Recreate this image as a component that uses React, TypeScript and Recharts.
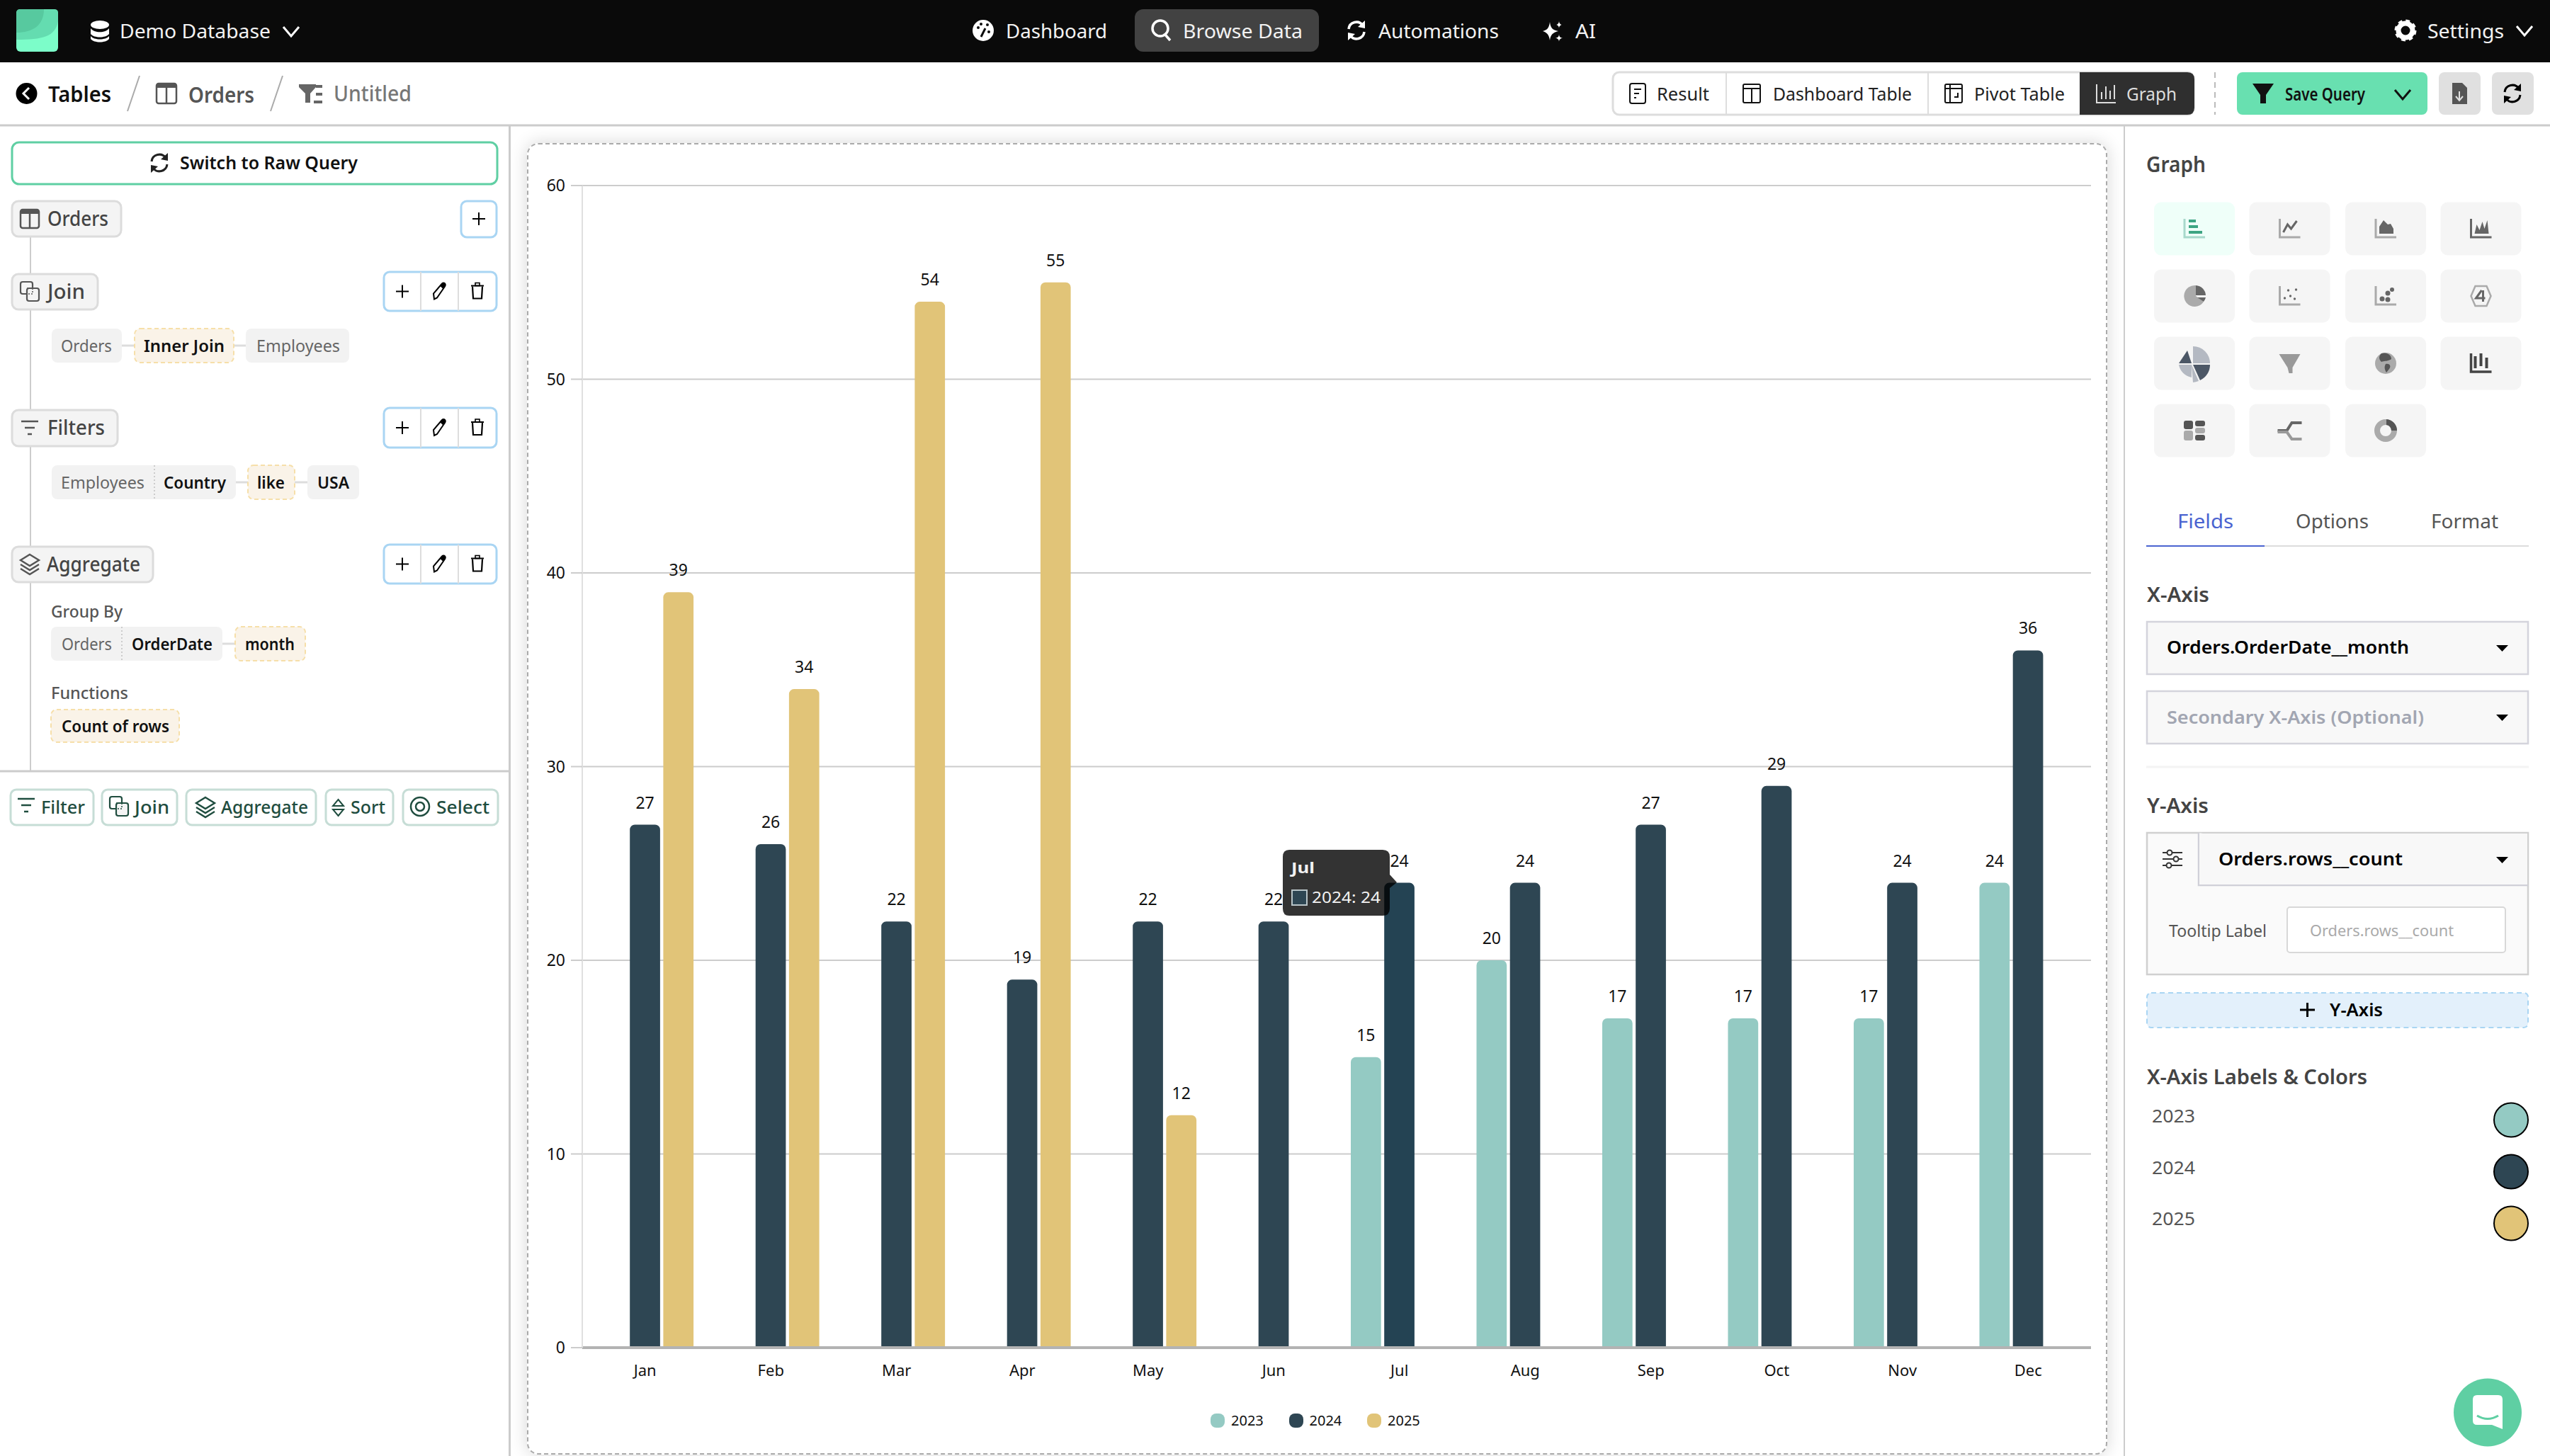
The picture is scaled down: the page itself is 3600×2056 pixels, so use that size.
import React from 'react';
import { BarChart, Bar, XAxis, YAxis, CartesianGrid, Legend, LabelList, Cell } from 'recharts';

const months = ['Jan', 'Feb', 'Mar', 'Apr', 'May', 'Jun', 'Jul', 'Aug', 'Sep', 'Oct', 'Nov', 'Dec'];
const values2023 = [null, null, null, null, null, null, 15, 20, 17, 17, 17, 24];
const values2024 = [27, 26, 22, 19, 22, 22, 24, 24, 27, 29, 24, 36];
const values2025 = [39, 34, 54, 55, 12, null, null, null, null, null, null, null];
const yTicks = [0, 10, 20, 30, 40, 50, 60];
const seriesNames = ['2023', '2024', '2025'];
const seriesColors = ['#94cac3', '#2e4653', '#e1c478'];
const hoveredColor = '#244353';
const hoveredMonth = 'Jul';

const rows = months.map((m, i) => ({ month: m, '2023': values2023[i], '2024': values2024[i], '2025': values2025[i] }));

const F = '"Noto Sans", sans-serif';

const T = ({ a, b, y, s = 24, w = 400, c = '#000', t }: any) => (
  <text x={a} y={y + s * 0.36} fontSize={s} fontWeight={w} fill={c} fontFamily={F} textLength={b - a} lengthAdjust="spacingAndGlyphs">{t}</text>
);
const R = ({ a, t, b, d, f = 'none', st, sw = 2, r = 0, dash }: any) => (
  <rect x={a} y={t} width={b - a} height={d - t} rx={r} fill={f} stroke={st} strokeWidth={st ? sw : 0} strokeDasharray={dash} />
);
const L = ({ x1, y1, x2, y2, c = '#ccc', w = 2, dash }: any) => <line x1={x1} y1={y1} x2={x2} y2={y2} stroke={c} strokeWidth={w} strokeDasharray={dash} />;
const G = ({ x, y, children }: any) => <g transform={`translate(${x} ${y})`}>{children}</g>;

const Chevron = ({ x, y, c = '#fff', w = 3 }: any) => <polyline points={`${x - 11},${y - 6} ${x},${y + 7} ${x + 11},${y - 6}`} fill="none" stroke={c} strokeWidth={w} />;
const TableIcon = ({ x, y, c = '#555', s = 13 }: any) => (
  <G x={x} y={y}>
    <rect x={-s} y={-s} width={2 * s} height={2 * s} rx={3} fill="none" stroke={c} strokeWidth={2.5} />
    <rect x={-s} y={-s} width={2 * s} height={6} fill={c} />
    <line x1={0} y1={-s} x2={0} y2={s} stroke={c} strokeWidth={2.5} />
  </G>
);
const JoinIcon = ({ x, y, c = '#555' }: any) => (
  <G x={x} y={y}>
    <rect x={-13} y={-14} width={17} height={17} rx={3} fill="none" stroke={c} strokeWidth={2.2} />
    <rect x={-4} y={-5} width={17} height={18} rx={3} fill="#f4f4f4" stroke={c} strokeWidth={2.2} />
    <rect x={-4} y={-5} width={8} height={8} fill="none" stroke={c} strokeWidth={1.5} strokeDasharray="2 2" />
  </G>
);
const FilterLines = ({ x, y, c = '#555' }: any) => (
  <G x={x} y={y}>
    <L x1={-12} y1={-9} x2={12} y2={-9} c={c} w={2.5} />
    <L x1={-7} y1={0} x2={7} y2={0} c={c} w={2.5} />
    <L x1={-3} y1={9} x2={3} y2={9} c={c} w={2.5} />
  </G>
);
const Layers = ({ x, y, c = '#555' }: any) => (
  <G x={x} y={y}>
    <polygon points="0,-14 13,-6 0,2 -13,-6" fill="none" stroke={c} strokeWidth={2.4} />
    <polyline points="-13,0 0,8 13,0" fill="none" stroke={c} strokeWidth={2.4} />
    <polyline points="-13,6 0,14 13,6" fill="none" stroke={c} strokeWidth={2.4} />
  </G>
);
const Refresh = ({ x, y, c = '#000', w = 3 }: any) => (
  <G x={x} y={y}>
    <path d="M-11,-2 A11,11 0 0 1 9,-7" fill="none" stroke={c} strokeWidth={w} />
    <path d="M11,2 A11,11 0 0 1 -9,7" fill="none" stroke={c} strokeWidth={w} />
    <polygon points="12,-14 12,-3 2,-5" fill={c} />
    <polygon points="-12,14 -12,3 -2,5" fill={c} />
  </G>
);
const Actions = ({ t, d }: any) => (
  <>
    <R a={542} t={t} b={701} d={d} f="#fff" st="#a9d5f3" sw={3} r={8} />
    <L x1={594} y1={t} x2={594} y2={d} c="#ddd" />
    <L x1={647} y1={t} x2={647} y2={d} c="#ddd" />
    <G x={568} y={(t + d) / 2}><L x1={-9} y1={0} x2={9} y2={0} c="#000" /><L x1={0} y1={-9} x2={0} y2={9} c="#000" /></G>
    <G x={620} y={(t + d) / 2}><path d="M-7,11 L-8,3 L4,-11 C7,-14 10,-10 8,-7 L-3,9 Z" fill="none" stroke="#000" strokeWidth={2} /><path d="M4,-11 C7,-14 10,-10 8,-7 L5,-4 L1,-8Z" fill="#000" /></G>
    <G x={674} y={(t + d) / 2}><path d="M-7,-7 L-6,10 L6,10 L7,-7" fill="none" stroke="#000" strokeWidth={2.2} /><L x1={-9} y1={-8} x2={9} y2={-8} c="#000" /><rect x={-3} y={-12} width={6} height={4} fill="none" stroke="#000" strokeWidth={1.6} /></G>
  </>
);
const Chip = ({ a, b, t, d, warm, f }: any) => (
  <R a={a} t={t} b={b} d={d} r={8} f={f || (warm ? '#faf3e8' : '#f2f2f2')} st={warm ? '#f6dfa9' : undefined} dash={warm ? '6 4' : undefined} />
);
const GroupChip = ({ a, b, t, d }: any) => <R a={a} t={t} b={b} d={d} r={9} f="#f4f4f4" st="#dcdcdc" sw={3} />;
const Btn = ({ a, b, children }: any) => (
  <>
    <R a={a} t={1115} b={b} d={1165} r={8} f="#fff" st="#c6ddd6" sw={3} />
    {children}
  </>
);
const green = '#1f4d3f';

const GraphCell = ({ x, y, active, children }: any) => (
  <>
    <R a={x - 57} t={y - 37.5} b={x + 57} d={y + 37.5} r={10} f={active ? '#effff9' : '#f5f5f5'} />
    <G x={x} y={y}>{children}</G>
  </>
);
const AxesGlyph = ({ c = '#aaa' }: any) => <polyline points="-14,-14 -14,12 15,12" fill="none" stroke={c} strokeWidth={3} />;

const Chrome = () => {
  const cols = [3098, 3232.5, 3368, 3502.5];
  const rws = [323, 418, 513, 608];
  const gd = '#666';
  const gl = '#aaa';
  return (
    <svg width={3600} height={2056} style={{ position: 'absolute', left: 0, top: 0, pointerEvents: 'none' }}>
      <defs>
        <linearGradient id="lg" x1="0" y1="0" x2="1" y2="1">
          <stop offset="0" stopColor="#58c99f" />
          <stop offset="1" stopColor="#7dffcc" />
        </linearGradient>
      </defs>
      {/* top bar */}
      <R a={0} t={0} b={3600} d={88} f="#0a0a0a" />
      <R a={23} t={13} b={82} d={73} r={6} f="#7cfdc9" />
      <path d="M29,13 H76 C82,13 82,16 82,20 V30 C78,52 60,56 23,56 V19 C23,15 25,13 29,13Z" fill="#64dcb0" />
      <path d="M29,13 H62 C62,36 46,46 23,46 V19 C23,15 25,13 29,13Z" fill="#57c99f" />
      <G x={141} y={44}>
        <ellipse cx={0} cy={-9} rx={13} ry={6} fill="#fff" />
        <path d="M-13,-4 C-8,3 8,3 13,-4 V4 C8,10 -8,10 -13,4Z" fill="#fff" />
        <path d="M-13,7 C-8,13 8,13 13,7 V11 C8,17 -8,17 -13,11Z" fill="#fff" />
      </G>
      <T a={169} b={382} y={44} s={28} c="#f2f2f2" t="Demo Database" />
      <Chevron x={411} y={44} />

      <G x={1388} y={43}>
        <circle r={15} fill="#fff" />
        <circle cx={-7} cy={-4} r={2} fill="#0a0a0a" /><circle cx={-3} cy={-9} r={2} fill="#0a0a0a" /><circle cx={6} cy={-8} r={2} fill="#0a0a0a" /><circle cx={8} cy={2} r={2} fill="#0a0a0a" />
        <L x1={-3} y1={9} x2={3} y2={-3} c="#0a0a0a" w={3} />
      </G>
      <T a={1420} b={1563} y={44} s={28} c="#f2f2f2" t="Dashboard" />
      <R a={1602} t={13} b={1862} d={73} r={12} f="#424242" />
      <G x={1638} y={42}><circle r={11} cy={-2} fill="none" stroke="#fff" strokeWidth={3.5} /><L x1={7} y1={7} x2={14} y2={15} c="#fff" w={3.5} /></G>
      <T a={1670} b={1839} y={44} s={28} c="#f2f2f2" t="Browse Data" />
      <Refresh x={1915} y={43} c="#fff" w={3.5} />
      <T a={1946} b={2116} y={44} s={28} c="#f2f2f2" t="Automations" />
      <G x={2192} y={44}>
        <path d="M-4,-13 C-3,-4 0,-2 8,0 C0,2 -3,5 -4,13 C-5,5 -8,2 -14,0 C-8,-2 -5,-4 -4,-13Z" fill="#fff" />
        <path d="M9,-15 C9,-11 11,-9 14,-9 C11,-9 9,-7 9,-4 C9,-7 7,-9 4,-9 C7,-9 9,-11 9,-15Z" fill="#fff" />
        <path d="M9,4 C9,8 11,9 14,10 C11,10 9,12 9,15 C9,12 7,10 4,10 C7,9 9,8 9,4Z" fill="#fff" />
      </G>
      <T a={2224} b={2253} y={44} s={28} c="#f2f2f2" t="AI" />
      <G x={3396} y={43}>
        <circle r={10} fill="none" stroke="#fff" strokeWidth={7} />
        <circle r={13} fill="none" stroke="#fff" strokeWidth={5} strokeDasharray="5.5 4.7" />
      </G>
      <T a={3427} b={3535} y={44} s={28} c="#f2f2f2" t="Settings" />
      <Chevron x={3564} y={43} />

      {/* second row */}
      <L x1={0} y1={177} x2={3600} y2={177} w={3} />
      <circle cx={37.5} cy={132} r={15} fill="#000" />
      <polyline points="41,124 33,132 41,140" fill="none" stroke="#fff" strokeWidth={3} />
      <T a={68} b={157} y={133} s={30} w={600} c="#111" t="Tables" />
      <L x1={197} y1={107} x2={180} y2={157} c="#aaa" />
      <TableIcon x={235} y={132} s={14} />
      <T a={266} b={359} y={134} s={30} w={600} c="#555" t="Orders" />
      <L x1={399} y1={107} x2={382} y2={157} c="#aaa" />
      <G x={438} y={132}>
        <polygon points="-16,-13 8,-13 8,-9 0,0 0,13 -7,13 -7,0 -16,-9" fill="#666" />
        <L x1={8} y1={-10} x2={17} y2={-10} c="#666" w={4} /><L x1={8} y1={1} x2={17} y2={1} c="#666" w={4} /><L x1={5} y1={12} x2={17} y2={12} c="#666" w={4} />
      </G>
      <T a={471} b={581} y={132} s={30} w={500} c="#777" t="Untitled" />

      <R a={2277} t={102} b={3097} d={162} r={9} f="#fff" st="#ddd" sw={3} />
      <L x1={2437} y1={102} x2={2437} y2={162} c="#ddd" />
      <L x1={2722} y1={102} x2={2722} y2={162} c="#ddd" />
      <path d="M2936,102 H3088 Q3098,102 3098,112 V152 Q3098,162 3088,162 H2936Z" fill="#2f2f2f" />
      <G x={2312} y={132}><R a={-11} t={-14} b={11} d={14} r={3} st="#111" /><L x1={-5} y1={-6} x2={5} y2={-6} c="#111" /><L x1={-5} y1={0} x2={2} y2={0} c="#111" /><L x1={-5} y1={6} x2={-2} y2={6} c="#111" /></G>
      <T a={2339} b={2413} y={133} s={26} c="#222" t="Result" />
      <G x={2473} y={132}><R a={-12} t={-13} b={12} d={13} r={2} st="#111" /><L x1={-12} y1={-7} x2={12} y2={-7} c="#111" /><L x1={0} y1={-7} x2={0} y2={13} c="#111" /></G>
      <T a={2503} b={2699} y={133} s={26} c="#222" t="Dashboard Table" />
      <G x={2758} y={132}><R a={-12} t={-13} b={12} d={13} r={2} st="#111" /><L x1={-12} y1={-7} x2={12} y2={-7} c="#111" /><L x1={-5} y1={-13} x2={-5} y2={13} c="#111" /><path d="M1,5 h5 v-6" fill="none" stroke="#111" strokeWidth={2} /></G>
      <T a={2787} b={2915} y={133} s={26} c="#222" t="Pivot Table" />
      <G x={2973} y={132}><polyline points="-13,-13 -13,13 14,13" fill="none" stroke="#ddd" strokeWidth={2} /><L x1={-6} y1={8} x2={-6} y2={-2} c="#ddd" /><L x1={0} y1={8} x2={0} y2={-10} c="#ddd" /><L x1={6} y1={8} x2={6} y2={-4} c="#ddd" /><L x1={12} y1={8} x2={12} y2={-12} c="#ddd" /></G>
      <T a={3002} b={3073} y={133} s={26} c="#ddd" t="Graph" />
      <L x1={3127} y1={102} x2={3127} y2={162} c="#bbb" dash="8 6" />
      <R a={3158} t={102} b={3427} d={162} r={8} f="#68e0b0" />
      <polygon points="3180,118 3210,118 3199,134 3199,146 3191,146 3191,134" fill="#111" />
      <T a={3226} b={3339} y={133} s={26} w={600} c="#111" t="Save Query" />
      <Chevron x={3392} y={133} c="#111" />
      <R a={3443} t={102} b={3502} d={162} r={8} f="#e0e0e0" />
      <G x={3472} y={132}><path d="M-10,-15 H4 L11,-8 V15 H-10Z" fill="#555" /><L x1={0} y1={-3} x2={0} y2={9} c="#e0e0e0" /><polyline points="-5,4 0,10 5,4" fill="none" stroke="#e0e0e0" strokeWidth={2} /></G>
      <R a={3518} t={102} b={3577} d={162} r={8} f="#e0e0e0" />
      <Refresh x={3547} y={132} />

      {/* left panel */}
      <L x1={719.5} y1={178} x2={719.5} y2={2056} w={3} />
      <L x1={43} y1={334} x2={43} y2={1089} />
      <L x1={0} y1={1089} x2={719} y2={1089} w={3} />
      <R a={17} t={201} b={702} d={260} r={10} f="#fff" st="#5fcfa3" sw={3} />
      <Refresh x={225} y={230} c="#222" />
      <T a={254} b={505} y={230} s={26} w={600} c="#111" t="Switch to Raw Query" />

      <GroupChip a={17} b={171} t={284} d={334} />
      <TableIcon x={42} y={309} />
      <T a={67} b={153} y={309} s={28} w={500} c="#444" t="Orders" />
      <R a={651} t={284} b={701} d={335} r={8} f="#fff" st="#a9d5f3" sw={3} />
      <L x1={667} y1={309} x2={685} y2={309} c="#000" /><L x1={676} y1={300} x2={676} y2={318} c="#000" />

      <GroupChip a={17} b={138} t={387} d={437} />
      <JoinIcon x={42} y={412} />
      <T a={67} b={120} y={412} s={28} w={500} c="#444" t="Join" />
      <Actions t={384} d={439} />
      <L x1={172} y1={488} x2={347} y2={488} c="#ddd" w={3} />
      <Chip a={73} b={172} t={464} d={512} />
      <T a={86} b={158} y={488} s={24} c="#666" t="Orders" />
      <Chip a={190} b={330} t={464} d={512} warm />
      <T a={203} b={317} y={488} s={24} w={600} c="#111" t="Inner Join" />
      <Chip a={347} b={493} t={464} d={512} />
      <T a={362} b={480} y={488} s={24} c="#666" t="Employees" />

      <GroupChip a={17} b={166} t={579} d={630} />
      <FilterLines x={42} y={604} />
      <T a={67} b={148} y={604} s={28} w={500} c="#444" t="Filters" />
      <Actions t={576} d={632} />
      <L x1={333} y1={681} x2={434} y2={681} c="#ddd" w={3} />
      <Chip a={73} b={333} t={657} d={705} />
      <L x1={218} y1={657} x2={218} y2={705} c="#ccc" dash="2 3" />
      <T a={86} b={204} y={681} s={24} c="#666" t="Employees" />
      <T a={231} b={319} y={681} s={24} w={600} c="#111" t="Country" />
      <Chip a={350} b={416} t={657} d={705} warm />
      <T a={363} b={402} y={681} s={24} w={600} c="#111" t="like" />
      <Chip a={434} b={507} t={657} d={705} />
      <T a={448} b={493} y={681} s={24} w={600} c="#111" t="USA" />

      <GroupChip a={17} b={216} t={772} d={822} />
      <Layers x={42} y={797} />
      <T a={66} b={198} y={797} s={28} w={500} c="#444" t="Aggregate" />
      <Actions t={769} d={824} />
      <T a={72} b={173} y={863} s={24} w={500} c="#555" t="Group By" />
      <L x1={314} y1={909} x2={332} y2={909} c="#ddd" w={3} />
      <Chip a={72} b={314} t={885} d={933} />
      <L x1={172} y1={885} x2={172} y2={933} c="#ccc" dash="2 3" />
      <T a={87} b={158} y={909} s={24} c="#666" t="Orders" />
      <T a={186} b={300} y={909} s={24} w={600} c="#111" t="OrderDate" />
      <Chip a={332} b={431} t={885} d={933} warm />
      <T a={346} b={416} y={909} s={24} w={600} c="#111" t="month" />
      <T a={72} b={181} y={978} s={24} w={500} c="#555" t="Functions" />
      <Chip a={72} b={253} t={1002} d={1048} warm />
      <T a={87} b={239} y={1025} s={24} w={600} c="#111" t="Count of rows" />

      <Btn a={15} b={132}><FilterLines x={37} y={1137} c={green} /><T a={58} b={120} y={1140} s={26} w={500} c={green} t="Filter" /></Btn>
      <Btn a={144} b={250}><JoinIcon x={168} y={1139} c={green} /><T a={190} b={239} y={1140} s={26} w={500} c={green} t="Join" /></Btn>
      <Btn a={263} b={446}><Layers x={290} y={1140} c={green} /><T a={312} b={435} y={1140} s={26} w={500} c={green} t="Aggregate" /></Btn>
      <Btn a={460} b={555}>
        <polygon points="477.5,1129 485,1138 470,1138" fill="none" stroke={green} strokeWidth={2} />
        <polygon points="477.5,1152 485,1143 470,1143" fill="none" stroke={green} strokeWidth={2} />
        <T a={495} b={544} y={1140} s={26} w={500} c={green} t="Sort" />
      </Btn>
      <Btn a={569} b={703}>
        <circle cx={593} cy={1139} r={13} fill="none" stroke={green} strokeWidth={2.5} /><circle cx={593} cy={1139} r={6} fill="none" stroke={green} strokeWidth={2.5} />
        <T a={616} b={691} y={1140} s={26} w={500} c={green} t="Select" />
      </Btn>

      {/* tooltip */}
      <path d="M1820,1200 H1952 Q1962,1200 1962,1210 V1235 L1972,1246 L1962,1254 V1283 Q1962,1293 1952,1293 H1820 Q1811,1293 1811,1283 V1210 Q1811,1200 1820,1200Z" fill="rgba(0,0,0,0.8)" />
      <T a={1823} b={1856} y={1225} s={22} w={700} c="#f2f2f2" t={hoveredMonth} />
      <rect x={1824} y={1257} width={21} height={21} fill="#2e4653" stroke="#b8c4c8" strokeWidth={2} />
      <T a={1852} b={1949} y={1267} s={22} c="#f2f2f2" t="2024: 24" />

      {/* right panel */}
      <L x1={2999} y1={178} x2={2999} y2={2056} />
      <T a={3030} b={3114} y={232} s={30} w={600} c="#444" t="Graph" />
      {rws.map((y, ri) => cols.map((x, ci) => (ri === 3 && ci === 3 ? null : <GraphCell key={`${ri}-${ci}`} x={x} y={y} active={ri === 0 && ci === 0} />)))}
      <G x={cols[0]} y={rws[0]}><AxesGlyph c="#a7d9cb" /><L x1={-8} y1={-11} x2={2} y2={-11} c="#3da583" w={4} /><L x1={-8} y1={-3} x2={5} y2={-3} c="#3da583" w={4} /><L x1={-8} y1={5} x2={11} y2={5} c="#3da583" w={4} /></G>
      <G x={cols[1]} y={rws[0]}><AxesGlyph /><polyline points="-9,5 -3,-6 2,0 10,-11" fill="none" stroke={gd} strokeWidth={3} /></G>
      <G x={cols[2]} y={rws[0]}><AxesGlyph /><path d="M-9,7 V-3 L-3,-12 L3,-6 L7,-7 L11,0 V7Z" fill={gd} /></G>
      <G x={cols[3]} y={rws[0]}><AxesGlyph c={gd} /><path d="M-9,7 L-6,-6 L-2,2 L2,-10 L5,0 L9,-12 L11,7Z" fill={gd} /></G>
      <G x={cols[0]} y={rws[1]}><path d="M2,-15 A15,15 0 1 0 13,8 L2,0Z" fill={gl} /><path d="M2,-15 A15,15 0 0 1 16,-1 L2,-1Z" fill={gd} /><path d="M4,2 L16,2 A15,15 0 0 1 13,8Z" fill={gd} /></G>
      <G x={cols[1]} y={rws[1]}><AxesGlyph /><circle cx={-7} cy={3} r={1.7} fill={gd} /><circle cx={-2} cy={-8} r={1.7} fill={gd} /><circle cx={1} cy={0} r={1.7} fill={gd} /><circle cx={7} cy={4} r={1.7} fill={gd} /><circle cx={9} cy={-9} r={1.7} fill={gd} /></G>
      <G x={cols[2]} y={rws[1]}><AxesGlyph /><circle cx={-5} cy={4} r={3.5} fill={gd} /><circle cx={3} cy={-4} r={3.5} fill={gd} /><circle cx={3} cy={5} r={3.5} fill={gd} /><circle cx={9} cy={-9} r={3} fill={gd} /></G>
      <G x={cols[3]} y={rws[1]}><polygon points="-8,-14 8,-14 14,0 8,14 -8,14 -14,0" fill="none" stroke={gl} strokeWidth={2.5} /><path d="M1,-8 L-7,3 H6 M3,-8 V8" fill="none" stroke={gd} strokeWidth={3} /></G>
      <G x={cols[0]} y={rws[2]}><path d="M-2,-24 A24,24 0 0 1 22,0 L-2,0Z" fill="#b4b9c2" /><path d="M-2,2 L22,2 A24,24 0 0 1 8,24Z" fill="#4c5766" /><path d="M-4,2 L6,25 A28,28 0 0 1 -2,27Z" fill="#b4b9c2" /><path d="M-22,0 L-10,-18 L-4,0Z" fill="#4c5766" /><path d="M-22,2 H-4 V20 A22,22 0 0 1 -22,2Z" fill="#b4b9c2" /></G>
      <G x={cols[1]} y={rws[2]}><polygon points="-15,-13 15,-13 4,6 4,14 -1,14 -3,6" fill="#999" /></G>
      <G x={cols[2]} y={rws[2]}><circle r={15} fill={gl} /><path d="M-6,-14 C2,-16 8,-12 8,-6 C2,-2 -2,-4 -6,-2 C-10,-6 -10,-10 -6,-14Z M0,1 C6,0 8,4 5,8 L1,13 C-2,8 -2,5 0,1Z" fill="#555" /></G>
      <G x={cols[3]} y={rws[2]}><polyline points="-14,-14 -14,12 15,12" fill="none" stroke="#444" strokeWidth={3.5} /><L x1={-8} y1={-10} x2={-8} y2={7} c="#444" w={4} /><L x1={0} y1={-14} x2={0} y2={4} c="#444" w={4} /><L x1={8} y1={-8} x2={8} y2={7} c="#444" w={4} /></G>
      <G x={cols[0]} y={rws[3]}><rect x={-15} y={-14} width={13} height={12} rx={3} fill="#555" /><rect x={1} y={-14} width={14} height={8} rx={3} fill="#555" /><rect x={1} y={-4} width={14} height={8} rx={3} fill={gl} /><rect x={-15} y={0} width={13} height={14} rx={3} fill={gl} /><rect x={1} y={6} width={14} height={8} rx={3} fill="#555" /></G>
      <G x={cols[1]} y={rws[3]}><path d="M-17,0 H-4 L3,-11 H17" fill="none" stroke="#666" strokeWidth={4} /><path d="M-17,2 H-4 L3,12 H17" fill="none" stroke="#999" strokeWidth={4} /></G>
      <G x={cols[2]} y={rws[3]}><circle r={12} fill="none" stroke={gl} strokeWidth={8} /><path d="M1,-16 A16,16 0 0 1 16,0 L8,0 A8,8 0 0 0 1,-8Z" fill="#555" /></G>

      <T a={3074} b={3153} y={736} s={28} c="#4a63d0" t="Fields" />
      <T a={3241} b={3344} y={736} s={28} c="#555" t="Options" />
      <T a={3432} b={3527} y={736} s={28} c="#555" t="Format" />
      <L x1={3030} y1={771} x2={3570} y2={771} c="#ddd" />
      <L x1={3030} y1={771} x2={3197} y2={771} c="#4a63d0" />

      <T a={3031} b={3119} y={840} s={28} w={600} c="#444" t="X-Axis" />
      <R a={3031} t={878} b={3569} d={952} f="#f8f8f8" st="#d4d4dc" sw={2.5} />
      <T a={3059} b={3401} y={914} s={26} w={600} c="#000" t="Orders.OrderDate__month" />
      <polygon points="3524,911 3541,911 3532.5,920" fill="#000" />
      <R a={3031} t={976} b={3569} d={1050} f="#f8f8f8" st="#d4d4dc" sw={2.5} />
      <T a={3059} b={3422} y={1013} s={26} w={600} c="#a2a6b2" t="Secondary X-Axis (Optional)" />
      <polygon points="3524,1009 3541,1009 3532.5,1018" fill="#000" />
      <L x1={3030} y1={1083} x2={3570} y2={1083} c="#f3f3f3" w={3} />

      <T a={3031} b={3118} y={1138} s={28} w={600} c="#444" t="Y-Axis" />
      <R a={3031} t={1176} b={3569} d={1376} f="#fafafa" st="#d0d0d0" sw={2.5} />
      <path d="M3104,1176 V1250 H3569" fill="#f8f8f8" stroke="#d0d0d8" strokeWidth={2.5} />
      <R a={3105} t={1177} b={3568} d={1249} f="#f8f8f8" />
      <G x={3067} y={1213}>
        <L x1={-14} y1={-9} x2={14} y2={-9} c="#333" /><L x1={-14} y1={0} x2={14} y2={0} c="#333" /><L x1={-14} y1={9} x2={14} y2={9} c="#333" />
        <circle cx={-4} cy={-9} r={3.5} fill="#fafafa" stroke="#333" strokeWidth={2} /><circle cx={5} cy={0} r={3.5} fill="#fafafa" stroke="#333" strokeWidth={2} /><circle cx={-5} cy={9} r={3.5} fill="#fafafa" stroke="#333" strokeWidth={2} />
      </G>
      <T a={3132} b={3392} y={1213} s={26} w={600} c="#000" t="Orders.rows__count" />
      <polygon points="3524,1210 3541,1210 3532.5,1219" fill="#000" />
      <T a={3062} b={3200} y={1314} s={24} c="#555" t="Tooltip Label" />
      <R a={3229} t={1281} b={3537} d={1345} r={4} f="#fff" st="#d8d8d8" />
      <T a={3261} b={3464} y={1314} s={22} c="#aaa" t="Orders.rows__count" />
      <R a={3031} t={1402} b={3569} d={1451} r={6} f="#e3f0fb" st="#a9d5f3" dash="7 5" />
      <L x1={3247} y1={1426} x2={3268} y2={1426} c="#000" w={3} /><L x1={3257.5} y1={1416} x2={3257.5} y2={1436} c="#000" w={3} />
      <T a={3289} b={3364} y={1426} s={26} w={600} c="#000" t="Y-Axis" />

      <T a={3031} b={3342} y={1521} s={28} w={600} c="#444" t="X-Axis Labels & Colors" />
      {seriesNames.map((n, i) => (
        <React.Fragment key={n}>
          <T a={3038} b={3099} y={1576 + i * 72.5} s={26} c="#555" t={n} />
          <circle cx={3545} cy={1581.5 + i * 73} r={24} fill={seriesColors[i]} stroke="#000" strokeWidth={2} />
        </React.Fragment>
      ))}
      <circle cx={3512} cy={1994.5} r={48} fill="#5fcfa3" />
      <path d="M3497,1970 H3527 Q3533,1970 3533,1976 V2018 L3518,2012 H3497 Q3491,2012 3491,2006 V1976 Q3491,1970 3497,1970Z" fill="#fff" />
      <path d="M3497,1999 Q3512,2008 3527,1999" fill="none" stroke="#5fcfa3" strokeWidth={3} />
    </svg>
  );
};

const LegendContent = ({ payload }: any) => (
  <div style={{ display: 'flex', fontFamily: F, fontSize: 20, lineHeight: '20px', color: '#111' }}>
    {(payload || []).map((p: any) => (
      <div key={p.value} style={{ display: 'flex', alignItems: 'center', width: 110.5 }}>
        <span style={{ width: 20, height: 20, borderRadius: 8, background: p.color, marginRight: 9 }} />
        <span>{p.value}</span>
      </div>
    ))}
  </div>
);

const labelProps = { position: 'top' as const, offset: 23, fill: '#111', fontSize: 23, fontFamily: F };

export default function App() {
  return (
    <div style={{ position: 'absolute', left: 0, top: 0, width: 3600, height: 2056, overflow: 'hidden', background: '#fff', fontFamily: F }}>
      <div style={{ position: 'absolute', left: 744, top: 202, width: 2231, height: 1852, background: '#fff', borderRadius: 16, border: '2px dashed #aaa', boxSizing: 'border-box', boxShadow: '0 0 24px rgba(0,0,0,0.16)' }} />
      <div style={{ position: 'absolute', left: 744, top: 202 }}>
        <BarChart width={2231} height={1854} data={rows} margin={{ top: 60, right: 23, bottom: 93, left: 0 }} barSize={42.7} barGap={4.5}>
          <CartesianGrid vertical={false} stroke="#ccc" strokeWidth={2} />
          <XAxis dataKey="month" interval={0} height={60} tickLine={false} tickSize={0} tickMargin={24} axisLine={{ stroke: '#b3b3b3', strokeWidth: 4 }} tick={{ fill: '#111', fontSize: 22, fontFamily: F }} />
          <YAxis width={78} domain={[0, 60]} ticks={yTicks} tickSize={16} tickMargin={8} axisLine={{ stroke: '#e0e0e0', strokeWidth: 2 }} tickLine={{ stroke: '#ccc', strokeWidth: 2 }} tick={{ fill: '#111', fontSize: 23, fontFamily: F }} />
          <Legend layout="horizontal" verticalAlign="middle" content={<LegendContent />} wrapperStyle={{ left: 965, top: 1794, width: 400 }} />
          <Bar dataKey="2023" fill={seriesColors[0]} radius={[7, 7, 0, 0]} isAnimationActive={false}>
            <LabelList dataKey="2023" {...labelProps} />
          </Bar>
          <Bar dataKey="2024" fill={seriesColors[1]} radius={[7, 7, 0, 0]} isAnimationActive={false}>
            {months.map(m => <Cell key={m} fill={m === hoveredMonth ? hoveredColor : seriesColors[1]} />)}
            <LabelList dataKey="2024" {...labelProps} />
          </Bar>
          <Bar dataKey="2025" fill={seriesColors[2]} radius={[7, 7, 0, 0]} isAnimationActive={false}>
            <LabelList dataKey="2025" {...labelProps} />
          </Bar>
        </BarChart>
      </div>
      <Chrome />
    </div>
  );
}
